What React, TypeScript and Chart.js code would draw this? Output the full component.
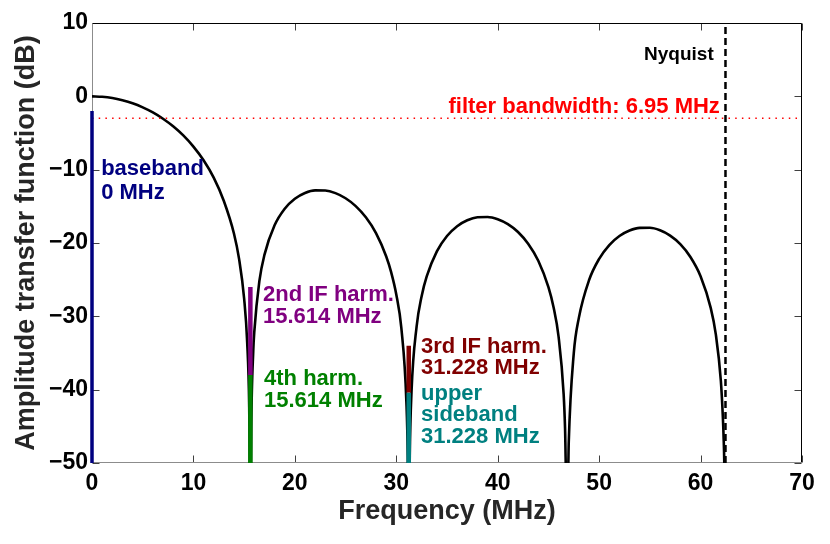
import React, { useEffect, useRef } from 'react';
import { Chart, registerables } from 'chart.js';

Chart.register(...registerables);

// curve (MHz / dB)
const freqMHz = [
  0, 1, 2, 3, 4, 5, 6, 7, 8, 9, 10, 11, 12, 13, 14, 14.5, 15, 15.3, 15.5, 15.58,
  15.65, 15.7, 15.9, 16, 16.5, 17, 18, 19, 20, 21, 22, 23, 24, 25, 26, 27, 28, 29,
  29.5, 30, 30.5, 31, 31.13, 31.2, 31.26, 31.33, 31.5, 32, 32.5, 33, 34, 35, 36, 37,
  38, 39, 40, 41, 42, 43, 44, 45, 45.5, 46, 46.5, 46.64, 46.74, 46.94, 47, 47.5, 48,
  49, 50, 51, 52, 53, 54, 55, 56, 57, 58, 59, 60, 61, 61.5, 62, 62.2, 62.26, 62.36,
  62.46,
];
const gainDb = [
  0, -0.06, -0.23, -0.53, -0.94, -1.5, -2.19, -3.05, -4.08, -5.33, -6.85, -8.72,
  -11.09, -14.27, -18.74, -22.17, -27.57, -33.55, -42.45, -53, -53, -45.0, -34.67,
  -32.12, -25.2, -21.62, -17.59, -15.33, -13.97, -13.18, -12.83, -12.85, -13.2,
  -13.9, -14.97, -16.5, -18.65, -21.8, -24.01, -27.01, -31.61, -41.78, -49.0, -59,
  -59, -49.0, -40.35, -31.43, -27.25, -24.56, -21.14, -19.05, -17.71, -16.9, -16.49,
  -16.45, -16.76, -17.43, -18.5, -20.1, -22.42, -26.02, -28.73, -32.76, -40.6, -45.3,
  -51.3, -51.3, -47.34, -35.02, -30.21, -25.08, -22.16, -20.28, -19.05, -18.3,
  -17.94, -17.93, -18.27, -18.99, -20.15, -21.9, -24.52, -28.85, -32.43, -38.82,
  -43.83, -46.0, -52.0, -70,
];

const xTicks = [0, 10, 20, 30, 40, 50, 60, 70];
const xTickLabels = ['0', '10', '20', '30', '40', '50', '60', '70'];
const yTicks = [-50, -40, -30, -20, -10, 0, 10];
const yTickLabels = ['\u221250', '\u221240', '\u221230', '\u221220', '\u221210', '0', '10'];

// harmonic markers
const markerFreqs = [0, 15.614, 15.614, 31.228, 31.228];
const markerTop = [-2, -26, -38, -34, -40.4];
const markerBottom = [-50, -38, -50, -40.4, -50];
const markerColors = ['#000080', '#800080', '#008000', '#800000', '#008080'];

const bandwidthDb = -3;
const nyquistMHz = 62.456;

type Note = { x: number; y: number; lines: string[]; color: string; size: number; gap: number; align: CanvasTextAlign };
const notes: Note[] = [
  { x: 0.9, y: -10.7, lines: ['baseband', '0 MHz'], color: '#000080', size: 22, gap: 24, align: 'left' },
  { x: 16.86, y: -27.9, lines: ['2nd IF harm.', '15.614 MHz'], color: '#800080', size: 22, gap: 22, align: 'left' },
  { x: 16.96, y: -39.4, lines: ['4th harm.', '15.614 MHz'], color: '#008000', size: 22, gap: 22, align: 'left' },
  { x: 32.44, y: -35.0, lines: ['3rd IF harm.', '31.228 MHz'], color: '#800000', size: 22, gap: 21, align: 'left' },
  { x: 32.44, y: -41.4, lines: ['upper', 'sideband', '31.228 MHz'], color: '#008080', size: 22, gap: 21.5, align: 'left' },
  { x: 61.9, y: -2.28, lines: ['filter bandwidth: 6.95 MHz'], color: '#ff0000', size: 22, gap: 0, align: 'right' },
  { x: 61.3, y: 4.95, lines: ['Nyquist'], color: '#000000', size: 19, gap: 0, align: 'right' },
];

const FONT = '"Liberation Sans", Arial, Helvetica, sans-serif';

const framePlugin = {
  id: 'frame',
  beforeDatasetsDraw(chart: any) {
    const { ctx, chartArea: a, scales } = chart;
    const L = a.left + 0.5, R = a.right - 0.5, T = a.top + 0.5, B = a.bottom - 0.5;
    ctx.save();
    ctx.lineWidth = 1;
    ctx.strokeStyle = '#404040';
    ctx.beginPath();
    xTicks.forEach((v) => {
      const px = Math.round(scales.x.getPixelForValue(v)) + 0.5;
      ctx.moveTo(px, B); ctx.lineTo(px, B - 7);
      ctx.moveTo(px, T); ctx.lineTo(px, T + 7);
    });
    yTicks.forEach((v) => {
      const py = Math.round(scales.y.getPixelForValue(v)) + 0.5;
      ctx.moveTo(L, py); ctx.lineTo(L + 7, py);
      ctx.moveTo(R, py); ctx.lineTo(R - 7, py);
    });
    ctx.stroke();
    ctx.strokeStyle = '#000000';
    ctx.beginPath();
    ctx.moveTo(L, T); ctx.lineTo(R, T); ctx.lineTo(R, B);
    ctx.stroke();
    ctx.strokeStyle = '#8c8c8c';
    ctx.beginPath();
    ctx.moveTo(L, T); ctx.lineTo(L, B); ctx.lineTo(R, B);
    ctx.stroke();
    ctx.restore();
  },
};

const notePlugin = {
  id: 'notes',
  afterDatasetsDraw(chart: any) {
    const { ctx, scales } = chart;
    ctx.save();
    ctx.textBaseline = 'alphabetic';
    notes.forEach((n) => {
      const px = scales.x.getPixelForValue(n.x);
      const py = scales.y.getPixelForValue(n.y);
      ctx.font = `bold ${n.size}px ${FONT}`;
      ctx.fillStyle = n.color;
      ctx.textAlign = n.align;
      n.lines.forEach((line, i) => ctx.fillText(line, px, py + i * n.gap));
    });
    ctx.restore();
  },
};

export default function App() {
  const canvasRef = useRef<HTMLCanvasElement>(null);

  useEffect(() => {
    if (!canvasRef.current) return;

    const curve = freqMHz.map((f, i) => ({ x: f, y: gainDb[i] }));
    const markerSets = markerFreqs.map((f, i) => ({
      data: [
        { x: f, y: markerTop[i] },
        { x: f, y: markerBottom[i] },
      ],
      borderColor: markerColors[i],
      borderWidth: i === 0 ? 3.5 : 4.5,
      pointRadius: 0,
      clip: i === 0 ? (false as any) : undefined,
      order: 1,
    }));

    const chart = new Chart(canvasRef.current, {
      type: 'line',
      data: {
        datasets: [
          ...markerSets,
          {
            data: [
              { x: 0, y: bandwidthDb },
              { x: 70, y: bandwidthDb },
            ],
            borderColor: '#ff0000',
            borderWidth: 1.5,
            borderDash: [1.5, 5.2],
            pointRadius: 0,
            order: 3,
          },
          {
            data: [
              { x: nyquistMHz, y: -50 },
              { x: nyquistMHz, y: 10 },
            ],
            borderColor: '#000000',
            borderWidth: 2.5,
            borderDash: [7, 4],
            pointRadius: 0,
            order: 2,
          },
          {
            data: curve,
            borderColor: '#000000',
            borderWidth: 2.6,
            pointRadius: 0,
            cubicInterpolationMode: 'monotone',
            order: 4,
          },
        ] as any,
      },
      options: {
        animation: false,
        responsive: false,
        events: [],
        layout: { padding: { left: 0, right: 28, top: 23, bottom: 0 } },
        plugins: { legend: { display: false }, tooltip: { enabled: false } },
        scales: {
          x: {
            type: 'linear',
            min: 0,
            max: 70,
            ticks: {
              stepSize: 10,
              autoSkip: false,
              maxRotation: 0,
              padding: 7,
              color: '#000000',
              font: { family: FONT, size: 23, weight: 'bold' },
              callback: (v: any) => xTickLabels[xTicks.indexOf(Number(v))] ?? '',
            },
            grid: { display: false, drawTicks: false },
            border: { display: false },
            title: {
              display: true,
              text: 'Frequency (MHz)',
              color: '#262626',
              font: { family: FONT, size: 27, weight: 'bold' },
              padding: { top: 0, bottom: 16 },
            },
            afterFit: (s: any) => {
              s.height = 81;
            },
          },
          y: {
            type: 'linear',
            min: -50,
            max: 10,
            ticks: {
              stepSize: 10,
              autoSkip: false,
              padding: 4,
              color: '#000000',
              font: { family: FONT, size: 23, weight: 'bold' },
              callback: (v: any) => yTickLabels[yTicks.indexOf(Number(v))] ?? '',
            },
            grid: { display: false, drawTicks: false },
            border: { display: false },
            title: {
              display: true,
              text: 'Amplitude transfer function (dB)',
              color: '#262626',
              font: { family: FONT, size: 27, weight: 'bold' },
              padding: { top: 10, bottom: 0 },
            },
            afterFit: (s: any) => {
              s.width = 92;
            },
          },
        },
      },
      plugins: [framePlugin, notePlugin],
    });

    return () => {
      chart.destroy();
    };
  }, []);

  return (
    <div style={{ position: 'fixed', left: 0, top: 0, width: 830, height: 544, background: '#ffffff' }}>
      <canvas ref={canvasRef} width={830} height={544} style={{ width: 830, height: 544 }} />
    </div>
  );
}
